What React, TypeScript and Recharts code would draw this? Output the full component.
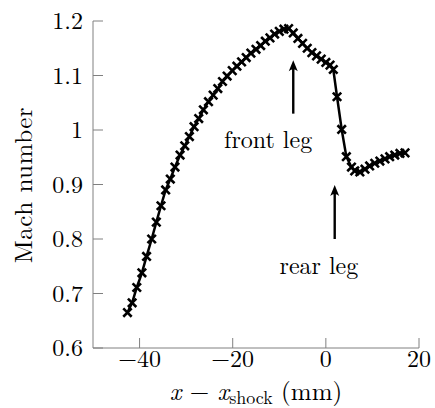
import { LineChart, Line, XAxis, YAxis, ReferenceLine, ReferenceDot } from "recharts"

// x - x_shock in mm
const xPos = [
  -42.6, -41.6, -40.6, -39.5, -38.5, -37.4, -36.4, -35.4, -34.4, -33.4, -32.4, -31.3, -30.3, -29.3, -28.3,
  -27.3, -26.3, -25.2, -24.2, -23.2, -22.2, -21.2, -20.1, -19.1, -18.1, -17.1, -16.1, -15.0, -14.0, -13.0,
  -12.0, -11.0, -10.0, -9.0, -8.0, -7.0, -6.0, -5.0, -4.0, -3.0, -2.0, -1.0, 0.0, 0.9, 1.6,
  2.4, 3.4, 4.4, 5.5, 6.2, 7.3, 8.4, 9.4, 10.5, 11.6, 12.7, 13.7, 14.8, 15.9, 17.0,
]
const mach = [
  0.665, 0.683, 0.711, 0.738, 0.768, 0.8, 0.831, 0.861, 0.89, 0.91, 0.932, 0.954, 0.971, 0.988, 1.006,
  1.021, 1.037, 1.052, 1.064, 1.076, 1.089, 1.099, 1.109, 1.117, 1.125, 1.133, 1.141, 1.148, 1.155, 1.163,
  1.169, 1.176, 1.181, 1.185, 1.186, 1.178, 1.168, 1.159, 1.15, 1.142, 1.136, 1.13, 1.124, 1.119, 1.111,
  1.061, 1.001, 0.951, 0.932, 0.925, 0.923, 0.928, 0.934, 0.939, 0.943, 0.947, 0.951, 0.954, 0.957, 0.958,
]
const xTicks = [-40, -20, 0, 20]
const yTicks = [0.6, 0.7, 0.8, 0.9, 1, 1.1, 1.2]

// annotations: arrow tail/tip and label spot
const frontArrow = [{ x: -7, y: 1.03 }, { x: -7, y: 1.128 }]
const rearArrow = [{ x: 1.9, y: 0.8 }, { x: 1.9, y: 0.899 }]
const frontLabel = { x: -12.4, y: 0.982, text: "front leg" }
const rearLabel = { x: -1.5, y: 0.752, text: "rear leg" }

const data = xPos.map((x, i) => ({ x, mach: mach[i] }))

const FONT = "Latin Modern Roman, Liberation Serif, serif"
const FS = 24
const txt = { fontFamily: FONT, fontSize: FS }
const AXIS_GRAY = "#808080"
const TICK_LEN = 10

const fmt = (v: number) => (v < 0 ? "\u2212" + Math.abs(v) : String(v))

function YTick(props: any) {
  const { x, y, payload } = props
  return (
    <g>
      <line x1={x} x2={x + TICK_LEN} y1={y} y2={y} stroke={AXIS_GRAY} strokeWidth={1} />
      <text x={x - 10} y={y} dy="0.35em" textAnchor="end" fontFamily={FONT} fontSize={FS} style={txt} fill="#000">
        {fmt(payload.value)}
      </text>
    </g>
  )
}

function XTick(props: any) {
  const { x, y, payload } = props
  return (
    <g>
      <line x1={x} x2={x} y1={y} y2={y - TICK_LEN} stroke={AXIS_GRAY} strokeWidth={1} />
      <text x={x} y={y + 19} textAnchor="middle" fontFamily={FONT} fontSize={FS} style={txt} fill="#000">
        {fmt(payload.value)}
      </text>
    </g>
  )
}

function Cross(props: any) {
  const { cx, cy, index } = props
  const s = 4.2
  return (
    <path
      key={`m-${index}`}
      d={`M${cx - s},${cy - s}L${cx + s},${cy + s}M${cx - s},${cy + s}L${cx + s},${cy - s}`}
      stroke="#000"
      strokeWidth={2.6}
      fill="none"
    />
  )
}

function Arrow(props: any) {
  const { x1, y1, x2, y2 } = props
  return (
    <g>
      <line x1={x1} y1={y1} x2={x2} y2={y2 + 6} stroke="#000" strokeWidth={2.4} />
      <path d={`M${x2},${y2} L${x2 - 4.5},${y2 + 11} Q${x2},${y2 + 7} ${x2 + 4.5},${y2 + 11} Z`} fill="#000" />
    </g>
  )
}

function label(text: string) {
  return (p: any) => (
    <text x={p.cx} y={p.cy} dy="0.35em" textAnchor="middle" fontFamily={FONT} fontSize={FS} style={txt} fill="#000">
      {text}
    </text>
  )
}

export default function App() {
  return (
    <div style={{ position: "absolute", left: 0, top: 0, width: 435, height: 408, background: "#fff", fontFamily: FONT }}>
      <LineChart width={435} height={408} data={data} margin={{ top: 21, right: 16, bottom: 0, left: 0 }}>
        <XAxis
          dataKey="x"
          type="number"
          domain={[-50, 20]}
          ticks={xTicks}
          height={60}
          tickSize={0}
          tickMargin={0}
          tickLine={false}
          tick={<XTick />}
          axisLine={{ stroke: AXIS_GRAY, strokeWidth: 1 }}
          interval={0}
        />
        <YAxis
          type="number"
          domain={[0.6, 1.2]}
          ticks={yTicks}
          width={93}
          tickSize={0}
          tickMargin={0}
          tickLine={false}
          tick={<YTick />}
          axisLine={{ stroke: AXIS_GRAY, strokeWidth: 1 }}
          interval={0}
        />
        <Line
          dataKey="mach"
          type="linear"
          stroke="#000"
          strokeWidth={2.5}
          dot={Cross}
          activeDot={false}
          isAnimationActive={false}
        />
        <ReferenceLine segment={frontArrow} shape={Arrow} />
        <ReferenceLine segment={rearArrow} shape={Arrow} />
        <ReferenceDot x={frontLabel.x} y={frontLabel.y} r={0} shape={label(frontLabel.text)} />
        <ReferenceDot x={rearLabel.x} y={rearLabel.y} r={0} shape={label(rearLabel.text)} />
      </LineChart>
      <svg width={435} height={408} style={{ position: "absolute", left: 0, top: 0, pointerEvents: "none" }}>
        <text
          transform="translate(23,185) rotate(-90)"
          textAnchor="middle"
          dy="0.35em"
          fontFamily={FONT}
          fontSize={FS}
          style={{ ...txt, fontSize: 25, letterSpacing: 0.5 }}
          fill="#000"
        >
          Mach number
        </text>
        <text x={256} y={400} textAnchor="middle" fontFamily={FONT} fontSize={25} style={{ ...txt, fontSize: 25 }} fill="#000">
          <tspan fontStyle="italic">x</tspan>
          <tspan> {"\u2212"} </tspan>
          <tspan fontStyle="italic">x</tspan>
          <tspan fontSize={18} dy={4}>shock</tspan>
          <tspan dy={-4}> (mm)</tspan>
        </text>
      </svg>
    </div>
  )
}
